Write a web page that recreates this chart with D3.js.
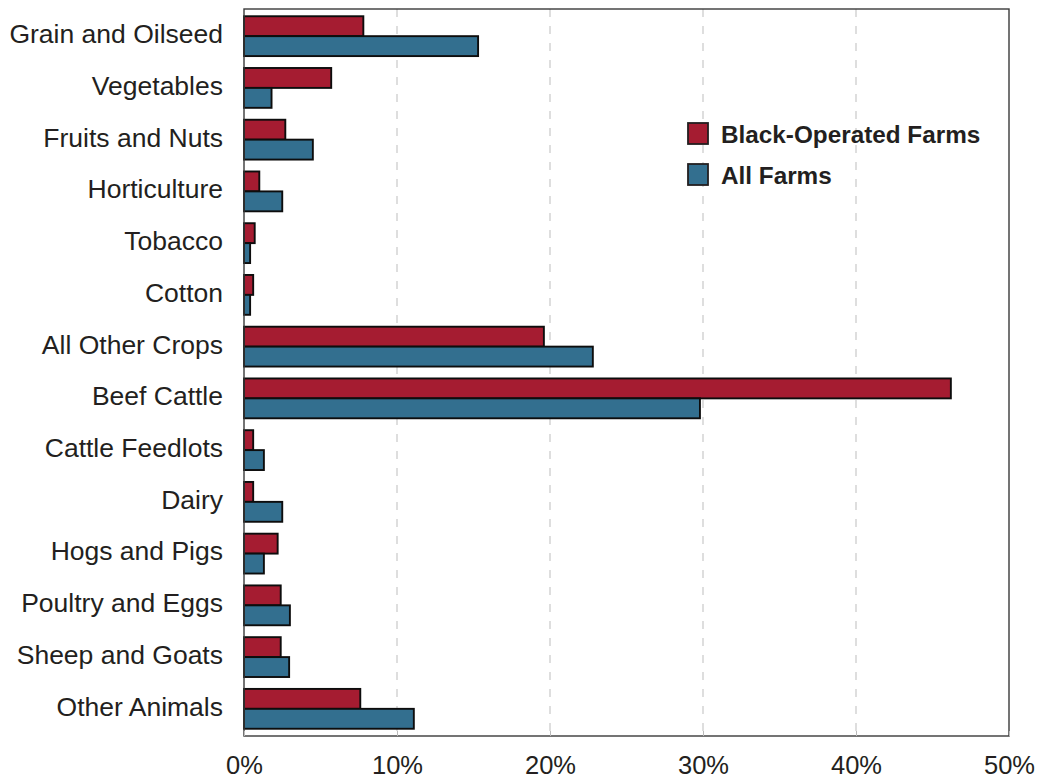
<!DOCTYPE html>
<html>
<head>
<meta charset="utf-8">
<script src="https://cdn.jsdelivr.net/npm/d3@7"></script>
<style>
  body { margin: 0; background: #fff; }
  text { font-family: "Liberation Sans", Arial, Helvetica, sans-serif; fill: #231f20; }
</style>
</head>
<body>
<svg id="chart" width="1037" height="778"></svg>
<script>
var categories = ["Grain and Oilseed", "Vegetables", "Fruits and Nuts", "Horticulture", "Tobacco",
    "Cotton", "All Other Crops", "Beef Cattle", "Cattle Feedlots", "Dairy", "Hogs and Pigs",
    "Poultry and Eggs", "Sheep and Goats", "Other Animals"];
var seriesNames = ["Black-Operated Farms", "All Farms"];
var blackFarms = [7.8, 5.7, 2.7, 1.0, 0.7, 0.6, 19.6, 46.2, 0.6, 0.6, 2.2, 2.4, 2.4, 7.6];
var allFarms = [15.3, 1.8, 4.5, 2.5, 0.4, 0.4, 22.8, 29.8, 1.3, 2.5, 1.3, 3.0, 2.95, 11.1];
var xTicks = [0, 10, 20, 30, 40, 50];
var colors = ["#a51c31", "#336f8f"];

var margin = {top: 9, right: 28, bottom: 42, left: 244};
var width = 1037 - margin.left - margin.right;
var height = 778 - margin.top - margin.bottom;

var svg = d3.select("#chart");
var g = svg.append("g").attr("transform", "translate(" + margin.left + "," + margin.top + ")");

var x = d3.scaleLinear().domain([0, 50]).range([0, width]);
var y = d3.scaleBand().domain(categories).range([0, height]).paddingInner(0.23).paddingOuter(0.14);
var ySub = d3.scaleBand().domain(seriesNames).range([0, y.bandwidth()]);

// dashed gridlines
g.selectAll(".grid").data(xTicks.slice(1, -1)).enter().append("line")
    .attr("class", "grid")
    .attr("x1", function(d) { return x(d); })
    .attr("x2", function(d) { return x(d); })
    .attr("y1", 0).attr("y2", height)
    .attr("stroke", "#c8c8c8")
    .attr("stroke-width", 1.2)
    .attr("stroke-dasharray", "8,9");

var rows = categories.map(function(c, i) {
    return {cat: c, values: [blackFarms[i], allFarms[i]]};
});

var group = g.selectAll(".cat").data(rows).enter().append("g")
    .attr("transform", function(d) { return "translate(0," + y(d.cat) + ")"; });

group.selectAll("rect").data(function(d) {
    return d.values.map(function(v, j) { return {name: seriesNames[j], value: v, idx: j}; });
}).enter().append("rect")
    .attr("x", x(0))
    .attr("y", function(d) { return ySub(d.name); })
    .attr("width", function(d) { return x(d.value) - x(0); })
    .attr("height", ySub.bandwidth())
    .attr("fill", function(d) { return colors[d.idx]; })
    .attr("stroke", "#0d0d0d")
    .attr("stroke-width", 1.9);

// frame
g.append("rect")
    .attr("x", 0).attr("y", 0)
    .attr("width", width).attr("height", height)
    .attr("fill", "none")
    .attr("stroke", "#3a3a3a")
    .attr("stroke-width", 1.4);

// x axis
var xAxis = d3.axisBottom(x)
    .tickValues(xTicks)
    .tickFormat(function(d) { return d + "%"; })
    .tickSizeInner(-5)
    .tickSizeOuter(0)
    .tickPadding(20);

var xg = g.append("g").attr("transform", "translate(0," + height + ")").call(xAxis);
xg.select(".domain").remove();
xg.selectAll(".tick line").attr("stroke", "#bbbbbb");
xg.selectAll(".tick text")
    .attr("font-size", "25.5px")
    .attr("font-family", "'Liberation Sans', Arial, sans-serif")
    .attr("fill", "#231f20");

// y axis labels
var yAxis = d3.axisLeft(y).tickSize(0).tickPadding(21);
var yg = g.append("g").call(yAxis);
yg.select(".domain").remove();
yg.selectAll(".tick text")
    .attr("font-size", "26.5px")
    .attr("font-family", "'Liberation Sans', Arial, sans-serif")
    .attr("fill", "#231f20")
    .attr("dy", "0.26em");

// legend
var legend = svg.append("g").attr("transform", "translate(688,123)");
var li = legend.selectAll(".li").data(seriesNames).enter().append("g")
    .attr("transform", function(d, i) { return "translate(0," + (i * 41) + ")"; });
li.append("rect")
    .attr("width", 20).attr("height", 21)
    .attr("fill", function(d, i) { return colors[i]; })
    .attr("stroke", "#231f20")
    .attr("stroke-width", 1.8);
li.append("text")
    .attr("x", 33).attr("y", 20)
    .attr("font-size", "24.3px")
    .attr("font-weight", "bold")
    .text(function(d) { return d; });
</script>
</body>
</html>
